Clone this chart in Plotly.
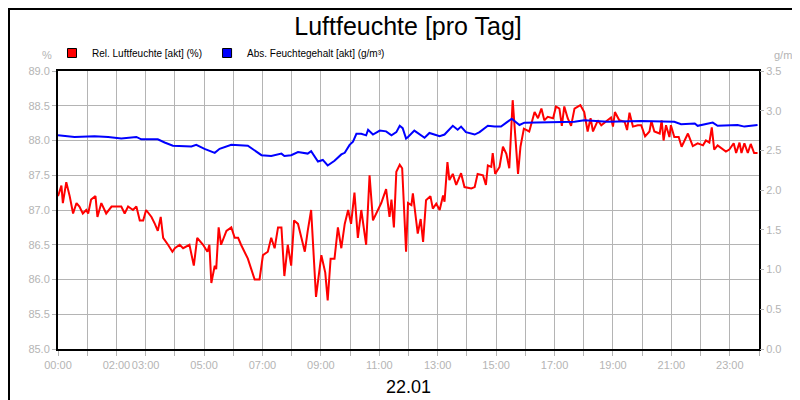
import plotly.graph_objects as go

rel_t = [0,7,10,17,24,31,38,44,51,58,62,68,77,81,89,99,110,120,130,137,144,154,161,168,175,181,192,199,205,211,216,226,235,240,250,257,270,279,286,298,307,311,315,322,325,330,335,346,356,363,370,376,383,390,397,404,414,421,431,438,445,452,459,465,472,479,485,493,500,507,513,520,530,541,549,554,560,568,575,582,589,596,602,609,616,623,633,640,647,657,664,674,681,685,690,695,702,707,715,
         719,726,729,739,745,750,756,765,770,777,784,791,794,800,804,811,818,828,835,849,856,862,873,879,883,890,893,898,907,914,921,927,934,939,945,950,957,968,979,986,993,999,1006,1017,1023,1030,1035,1040,1047,1054,1061,1073,1081,1088,1094,1099,1109,1116,1129,1136,1140,1144,1153,1164,1169,1174,1181,1191,1198,1206,1215,1219,1225,1236,1240,1244,1249,1256,1259,1266,1275,1281,1294,1304,1314,1325,1331,1338,1343,1348,1355,1365,1372,1379,1388,1393,1400,1404,1410,1417,1423,1430,1437]
rel_v = [87.2,87.35,87.1,87.4,87.2,86.95,87.1,87.05,86.95,87.0,86.95,87.15,87.2,86.9,87.1,86.95,87.05,87.05,87.05,86.95,87.05,87.0,87.05,86.85,86.85,87.0,86.9,86.8,86.7,86.9,86.6,86.5,86.4,86.45,86.5,86.45,86.5,86.2,86.6,86.5,86.4,86.5,85.95,86.2,86.15,86.75,86.5,86.7,86.75,86.6,86.6,86.5,86.4,86.3,86.15,86.0,86.0,86.35,86.4,86.6,86.45,86.75,86.75,86.05,86.5,86.2,86.85,86.8,86.6,86.4,86.7,87.0,85.75,86.35,86.1,85.7,86.3,86.3,86.75,86.45,86.8,87.0,86.8,87.25,86.6,87.0,86.5,87.5,86.85,87.0,87.1,87.3,86.9,87.15,86.75,87.55,87.65,87.6,86.4,
         87.1,87.07,87.24,86.66,86.87,86.54,87.14,87.2,87.02,87.09,87.0,87.21,87.12,87.69,87.43,87.52,87.36,87.53,87.33,87.31,87.33,87.52,87.5,87.36,87.64,87.62,87.82,87.52,87.62,87.91,87.81,87.6,88.58,88.05,87.52,87.91,88.17,88.13,88.41,88.32,88.46,88.29,88.34,88.32,88.49,88.46,88.21,88.49,88.32,88.21,88.46,88.51,88.41,88.13,88.32,88.13,88.29,88.22,88.29,88.33,88.2,88.41,88.29,88.27,88.15,88.4,88.2,88.22,88.22,88.06,88.13,88.28,88.13,88.1,88.29,88.0,88.22,88.05,88.22,88.05,88.05,87.91,88.1,87.92,87.96,87.93,88.0,87.97,88.19,87.87,87.93,87.88,87.84,87.87,87.96,87.82,87.97,87.82,87.96,87.82,87.95,87.82,87.82]

abs_t = [0,34,75,103,130,161,171,205,219,236,274,284,301,322,332,356,390,404,418,438,459,465,479,493,513,520,534,544,554,568,582,589,599,606,613,623,633,637,647,661,674,685,695,702,708,715,
         719,732,743,753,763,784,794,811,821,828,838,856,866,883,897,910,921,932,948,958,1061,1081,1129,1198,1266,1280,1308,1314,1345,1355,1396,1410,1437]
abs_v = [2.69,2.67,2.68,2.67,2.65,2.67,2.64,2.64,2.60,2.56,2.55,2.57,2.52,2.47,2.52,2.57,2.56,2.50,2.44,2.43,2.46,2.43,2.44,2.48,2.46,2.49,2.36,2.38,2.31,2.37,2.45,2.47,2.57,2.61,2.71,2.71,2.69,2.76,2.70,2.75,2.74,2.69,2.73,2.81,2.78,2.65,
         2.67,2.75,2.70,2.66,2.72,2.68,2.70,2.81,2.76,2.80,2.73,2.70,2.73,2.81,2.80,2.80,2.85,2.90,2.82,2.85,2.86,2.88,2.86,2.87,2.86,2.83,2.84,2.81,2.85,2.81,2.82,2.80,2.82]

tick_min = [h*60 for h in range(25)]
tick_txt = ["00:00","","02:00","03:00","","05:00","","07:00","","09:00","","11:00","","13:00","","15:00","","17:00","","19:00","","21:00","","23:00",""]

grey = "#b4b4b4"
fig = go.Figure()
fig.add_trace(go.Scatter(x=rel_t, y=rel_v, mode="lines", line=dict(color="#ff0000", width=2), showlegend=False))
fig.add_trace(go.Scatter(x=abs_t, y=abs_v, mode="lines", line=dict(color="#0000ff", width=2), yaxis="y2", showlegend=False))
fig.add_trace(go.Scatter(x=[None], y=[None], mode="markers", name="Rel. Luftfeuchte [akt] (%)",
                         marker=dict(symbol="square", color="#ff0000", size=9, line=dict(color="black", width=1))))
fig.add_trace(go.Scatter(x=[None], y=[None], mode="markers", name="Abs. Feuchtegehalt [akt] (g/m³)",
                         marker=dict(symbol="square", color="#0000ff", size=9, line=dict(color="black", width=1))))

fig.update_layout(
    width=800, height=400, paper_bgcolor="white", plot_bgcolor="white",
    margin=dict(l=50, r=49, t=63, b=59, autoexpand=False),
    font=dict(family="Liberation Sans, Arial", size=11, color=grey),
    title=dict(text="Luftfeuchte [pro Tag]", x=0.5, xanchor="center", y=1-18/400, yanchor="middle",
               font=dict(size=25, color="black")),
    legend=dict(orientation="h", xref="container", yref="container", x=0.055, y=1-45/400,
                xanchor="left", yanchor="middle",
                font=dict(size=10, color="black"), tracegroupgap=0),
    xaxis=dict(range=[0, 1440], tickvals=tick_min, ticktext=tick_txt, showgrid=True, gridcolor=grey,
               showline=True, linecolor="black", linewidth=2, mirror=True, ticks="outside", tickcolor=grey,
               ticklen=5, zeroline=False, tickangle=0, automargin=False, tickfont=dict(color=grey)),
    yaxis=dict(range=[85, 89], dtick=0.5, tickformat=".1f", showgrid=True, gridcolor=grey,
               showline=True, linecolor="black", linewidth=2, mirror=True, zeroline=False, automargin=False,
               ticks="outside", tickcolor=grey, ticklen=4),
    yaxis2=dict(range=[0, 3.5], dtick=0.5, tickformat=".1f", overlaying="y", side="right", automargin=False,
                showgrid=False, zeroline=False, ticks="outside", tickcolor=grey, ticklen=4),
    shapes=[dict(type="rect", xref="paper", yref="paper", x0=-49/701, x1=1+48/701, y0=-58/278, y1=1+62/278,
                 line=dict(color="black", width=2), fillcolor="rgba(0,0,0,0)")],
    annotations=[
        dict(text="22.01", xref="paper", yref="paper", x=0.5, y=-38/278, yanchor="middle", showarrow=False,
             font=dict(size=18, color="black")),
        dict(text="%", xref="paper", yref="paper", x=-0.005, y=1+16/278, xanchor="right", yanchor="middle",
             showarrow=False, font=dict(size=11, color=grey)),
        dict(text="g/m³", xref="paper", yref="paper", x=1.055, y=1+16/278, xanchor="right", yanchor="middle",
             showarrow=False, font=dict(size=11, color=grey)),
    ],
)
fig.write_html("out.html")
